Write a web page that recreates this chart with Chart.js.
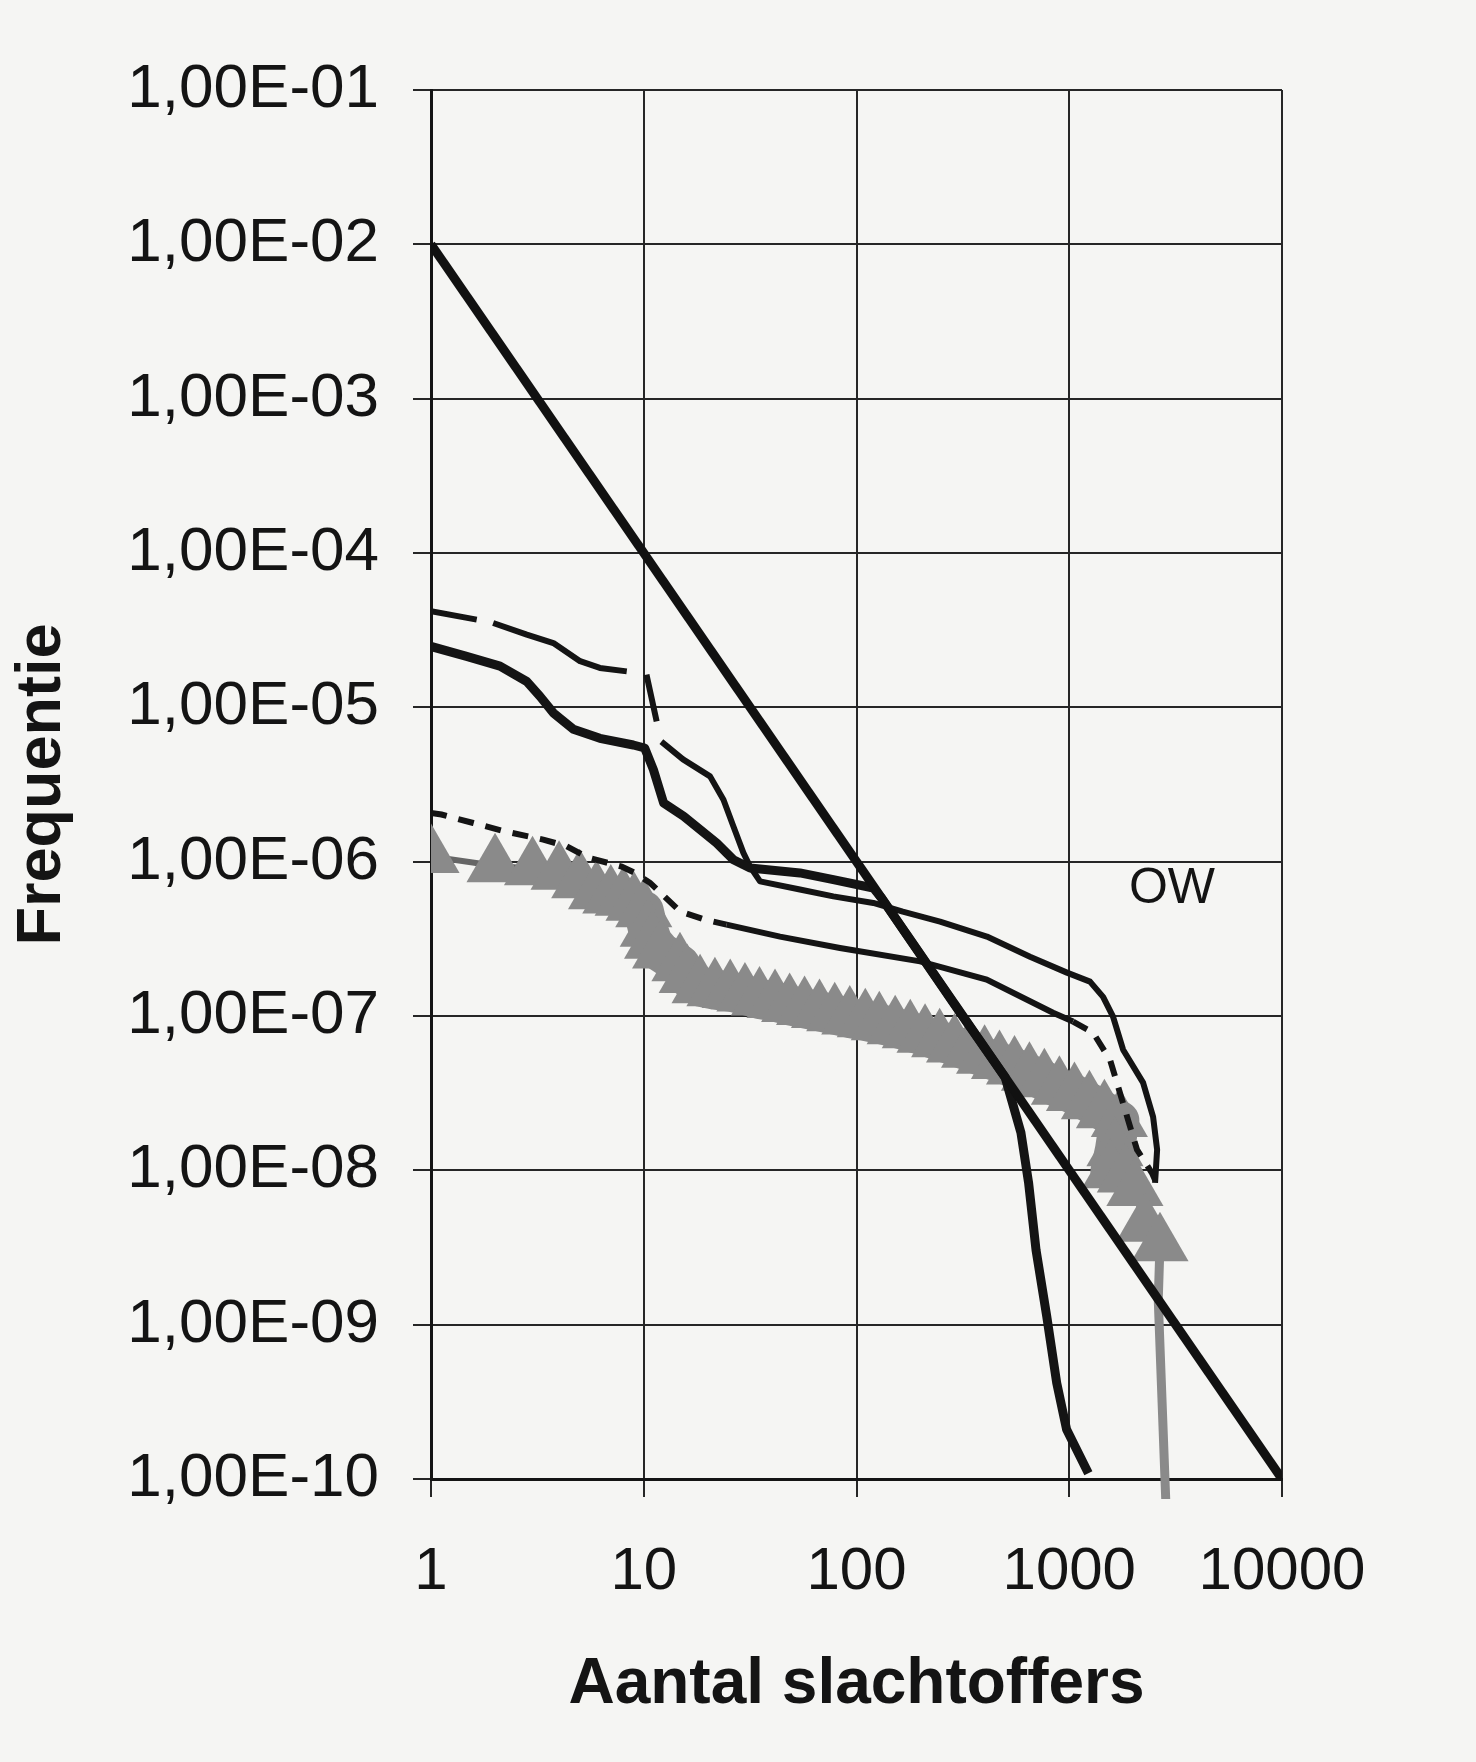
<!DOCTYPE html>
<html>
<head>
<meta charset="utf-8">
<title>Frequentie - Aantal slachtoffers</title>
<script src="https://cdn.jsdelivr.net/npm/chart.js@4.4.1/dist/chart.umd.min.js"></script>
<style>
    body { margin: 0; background: #f5f5f3; }
    #wrap { width: 1476px; height: 1762px; }
</style>
</head>
<body>
<div id="wrap"><canvas id="myChart" width="1476" height="1762"></canvas></div>
<script>
/* axes */
const xTicks = [1, 10, 100, 1000, 10000];
const xTickLabels = ['1', '10', '100', '1000', '10000'];
const yTicks = [1e-10, 1e-9, 1e-8, 1e-7, 1e-6, 1e-5, 1e-4, 1e-3, 1e-2, 1e-1];
const yTickLabels = ['1,00E-10', '1,00E-09', '1,00E-08', '1,00E-07', '1,00E-06',
                     '1,00E-05', '1,00E-04', '1,00E-03', '1,00E-02', '1,00E-01'];

/* norm line */
const normX = [1, 10000];
const normY = [1e-2, 1e-10];

/* solid curve */
const solidX = [1, 1.47, 2.11, 2.82, 3.25, 3.76, 4.67, 6.22, 8.93, 10.1, 11.1, 12.4, 15.4, 22, 26.4, 31.6,
                54.2, 77.8, 120, 130, 300, 500, 593, 644, 698, 784, 873, 972, 1230];
const solidY = [2.48e-5, 2.14e-5, 1.85e-5, 1.47e-5, 1.18e-5, 9.2e-6, 7.2e-6, 6.3e-6, 5.7e-6, 5.45e-6, 3.95e-6,
                2.4e-6, 1.97e-6, 1.32e-6, 1.03e-6, 9.1e-7, 8.45e-7, 7.65e-7, 6.75e-7, 5.9e-7, 1.1e-7, 4.0e-8,
                1.75e-8, 8.3e-9, 3.05e-9, 1.13e-9, 4.2e-10, 2.09e-10, 1.09e-10];

/* upper broken curve (null = gap) */
const dashX = [1, 1.64, 1.8, 1.96, 2.82, 3.76, 5.02, 6.22, 8.32, 9.3, 10.3, 11.5, 11.8, 12.1, 15.3, 20.5, 23.7,
               26.4, 29.4, 31.6, 35.2, 54.2, 77.8, 120, 165, 247, 410, 654, 975, 1252, 1442, 1606, 1791, 2223,
               2478, 2588, 2531];
const dashY = [4.19e-5, 3.70e-5, null, 3.52e-5, 2.96e-5, 2.61e-5, 1.99e-5, 1.80e-5, 1.71e-5, null, 1.63e-5,
               8.1e-6, null, 6.0e-6, 4.6e-6, 3.57e-6, 2.52e-6, 1.69e-6, 1.14e-6, 9.3e-7, 7.45e-7, 6.6e-7,
               5.96e-7, 5.4e-7, 4.74e-7, 4.09e-7, 3.27e-7, 2.42e-7, 1.91e-7, 1.67e-7, 1.33e-7, 9.9e-8, 6.05e-8,
               3.7e-8, 2.22e-8, 1.36e-8, 8.3e-9];

/* lower dotted curve */
const dotX = [1, 1.12, 1.58, 2.23, 3.37, 4.34, 5.49, 7.87, 9.1, 10.7, 14.8, 19.4, 24.5, 43.7, 83.6, 199, 409,
              839, 1042, 1294, 1555, 2082, 2449, 2588];
const dotY = [2.07e-6, 2.02e-6, 1.78e-6, 1.57e-6, 1.39e-6, 1.26e-6, 1.06e-6, 9.3e-7, 8.45e-7, 7.3e-7, 4.77e-7,
              4.21e-7, 3.91e-7, 3.27e-7, 2.76e-7, 2.26e-7, 1.72e-7, 1.05e-7, 9.2e-8, 7.8e-8, 5.2e-8, 1.36e-8,
              9.6e-9, 8.1e-9];

/* grey triangles */
const grayX = [1, 2, 3, 4, 5, 6, 7, 8, 9, 10, 10.5, 11, 12, 14.8, 16, 18.4, 21.6, 25.5, 29.9, 35, 41.4, 48.5,
               57, 67, 79, 93, 110, 128, 152, 179, 210, 246, 289, 340, 400, 470, 553, 650, 764, 899, 1058,
               1244, 1463, 1720, 1640, 1560, 1835, 2035, 2260, 2670, 2620, 3000];
const grayY = [1.08e-6, 9.4e-7, 9.0e-7, 8.4e-7, 7.4e-7, 6.3e-7, 5.9e-7, 5.7e-7, 5.3e-7, 4.8e-7, 3.6e-7, 3.0e-7,
               2.6e-7, 2.15e-7, 1.8e-7, 1.55e-7, 1.48e-7, 1.44e-7, 1.37e-7, 1.29e-7, 1.24e-7, 1.17e-7, 1.12e-7,
               1.07e-7, 1.02e-7, 9.7e-8, 9.3e-8, 8.9e-8, 8.4e-8, 7.9e-8, 7.4e-8, 6.9e-8, 6.4e-8, 5.9e-8,
               5.4e-8, 5.0e-8, 4.6e-8, 4.2e-8, 3.8e-8, 3.4e-8, 3.1e-8, 2.74e-8, 2.4e-8, 2.1e-8, 1.36e-8,
               9.8e-9, 9.2e-9, 7.5e-9, 4.4e-9, 3.3e-9, 1.45e-9, 1e-11];

const owText = 'OW';
const owX = 3040;
const owY = 6.6e-7;

function toPoints(xs, ys) {
    return xs.map(function(x, i) { return {x: x, y: ys[i]}; });
}

const ink = '#141414';
const grey = '#8a8a8a';
const family = '"Liberation Sans", Arial, sans-serif';

/* grey band: wide ribbon in the middle part, thin elsewhere */
function bandPart(c) {
    const a = c.p0.parsed, b = c.p1.parsed;
    if (a.y < 2e-9 || b.y < 2e-9) return 'drop';
    if (a.x >= 10 && b.x >= 10 && a.x <= 1720 && b.x <= 1720) return 'band';
    return 'thin';
}

/* OW label */
const owPlugin = {
    id: 'owLabel',
    afterDatasetsDraw(chart) {
        const ctx = chart.ctx;
        ctx.save();
        ctx.font = '50px ' + family;
        ctx.fillStyle = ink;
        ctx.textAlign = 'center';
        ctx.textBaseline = 'middle';
        ctx.fillText(owText, chart.scales.x.getPixelForValue(owX), chart.scales.y.getPixelForValue(owY));
        ctx.restore();
    }
};

const ctx = document.getElementById('myChart');
const myChart = new Chart(ctx, {
    type: 'scatter',
    data: {
        datasets: [
            {
                label: 'norm',
                data: toPoints(normX, normY),
                showLine: true,
                borderColor: '#111111',
                borderWidth: 9,
                pointRadius: 0
            },
            {
                label: 'solid',
                data: toPoints(solidX, solidY),
                showLine: true,
                borderColor: ink,
                borderWidth: 9,
                borderJoinStyle: 'round',
                pointRadius: 0
            },
            {
                label: 'dashed',
                data: toPoints(dashX, dashY),
                showLine: true,
                spanGaps: false,
                borderColor: ink,
                borderWidth: 6,
                borderJoinStyle: 'round',
                pointRadius: 0
            },
            {
                label: 'dotted',
                data: toPoints(dotX, dotY),
                showLine: true,
                borderColor: ink,
                borderWidth: 6,
                pointRadius: 0,
                segment: {
                    borderDash: function(c) {
                        return (c.p0.parsed.x < 22 || c.p0.parsed.x > 1000) ? [16, 12] : undefined;
                    }
                }
            },
            {
                label: 'grey',
                data: toPoints(grayX, grayY),
                showLine: true,
                borderColor: '#666666',
                borderWidth: 6,
                borderJoinStyle: 'round',
                borderCapStyle: 'round',
                segment: {
                    borderWidth: function(c) {
                        const p = bandPart(c);
                        return p === 'band' ? 40 : (p === 'drop' ? 9 : 6);
                    },
                    borderColor: function(c) {
                        return bandPart(c) === 'thin' ? '#666666' : grey;
                    }
                },
                pointStyle: 'triangle',
                pointRadius: function(c) {
                    return (c.raw && c.raw.y < 2e-9) ? 0 : 33;
                },
                pointBackgroundColor: grey,
                pointBorderWidth: 0,
                clip: {left: 0, top: 0, right: 0, bottom: 20}
            }
        ]
    },
    options: {
        responsive: false,
        animation: false,
        devicePixelRatio: 1,
        layout: {
            padding: {top: 90, right: 194, bottom: 0, left: 0}
        },
        plugins: {
            legend: {display: false},
            tooltip: {enabled: false}
        },
        scales: {
            x: {
                type: 'logarithmic',
                min: 1,
                max: 10000,
                afterBuildTicks: function(scale) {
                    scale.ticks = xTicks.map(function(v) { return {value: v}; });
                },
                afterFit: function(scale) { scale.height = 283; },
                ticks: {
                    autoSkip: false,
                    maxRotation: 0,
                    padding: 39,
                    color: ink,
                    font: {family: family, size: 60, lineHeight: 1.2},
                    callback: function(v, i) { return xTickLabels[i]; }
                },
                grid: {color: '#262626', lineWidth: 2, tickLength: 18},
                border: {color: ink, width: 3},
                title: {
                    display: true,
                    text: 'Aantal slachtoffers',
                    color: ink,
                    font: {family: family, size: 64, weight: 'bold', lineHeight: 1.2},
                    padding: {top: 0, bottom: 38}
                }
            },
            y: {
                type: 'logarithmic',
                min: 1e-10,
                max: 1e-1,
                afterBuildTicks: function(scale) {
                    scale.ticks = yTicks.map(function(v) { return {value: v}; });
                },
                afterFit: function(scale) { scale.width = 431; },
                ticks: {
                    autoSkip: false,
                    padding: 34,
                    color: ink,
                    font: {family: family, size: 62, lineHeight: 1.2},
                    callback: function(v, i) { return yTickLabels[i]; }
                },
                grid: {color: '#262626', lineWidth: 2, tickLength: 18},
                border: {color: ink, width: 3},
                title: {
                    display: true,
                    text: 'Frequentie',
                    color: ink,
                    font: {family: family, size: 63, weight: 'bold', lineHeight: 1.2},
                    padding: {top: 5, bottom: 0}
                }
            }
        }
    },
    plugins: [owPlugin]
});
</script>
</body>
</html>
